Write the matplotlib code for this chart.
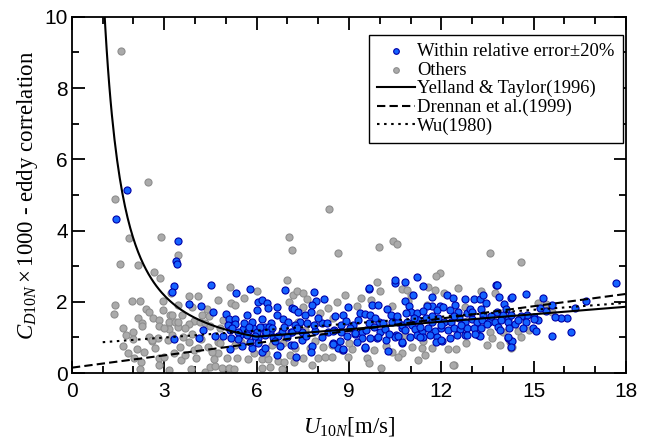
import numpy as np
import matplotlib
matplotlib.use("Agg")
from matplotlib import pyplot as plt
from matplotlib.ticker import MultipleLocator

plt.rcParams['mathtext.fontset'] = 'custom'
plt.rcParams['mathtext.rm'] = 'Liberation Serif'
plt.rcParams['mathtext.it'] = 'Liberation Serif:italic'

# within relative error +-20%
blue_u = [1.79, 1.44, 3.44, 3.38, 3.42, 3.33, 3.25, 3.30,
          4.52, 5.34, 5.79, 3.81, 4.19, 4.58, 5.00, 5.09, 5.30, 5.07, 5.30, 5.55,
          5.73, 5.87, 5.69, 5.84, 6.04, 6.17, 6.33, 6.36, 6.02, 6.17, 6.47, 6.66,
          6.93, 6.66, 6.87, 7.01, 7.14, 4.25, 4.14, 4.65, 4.90, 5.17, 5.46, 5.54,
          5.12, 5.84, 6.19, 6.66, 5.79, 6.06, 6.27, 6.44, 6.54, 6.76, 6.84, 6.01,
          6.17, 6.27, 6.40, 5.68, 7.12, 7.12, 6.26, 5.14, 5.41,
          7.88, 8.20, 7.93, 7.79, 7.77, 7.23, 7.34, 9.66, 10.48, 10.50, 8.96, 8.82,
          9.74, 9.93, 10.25, 10.37, 9.36, 9.52, 9.69, 9.98, 7.58, 7.41, 7.63, 7.25,
          7.47, 7.14, 7.90, 8.14, 8.33, 8.52, 8.74, 8.74, 9.12, 9.20, 9.42, 9.66,
          9.80, 10.01, 10.17, 9.90, 9.69, 9.42, 10.39, 10.60, 10.72, 10.52, 10.20,
          9.52, 8.93, 8.49, 8.66, 8.82, 8.14, 7.80, 7.77, 7.47, 7.27, 7.20, 9.25, 10.72,
          11.22, 10.82, 11.40, 11.09, 10.82, 10.95, 11.69, 12.18, 12.39, 12.77, 13.07,
          13.26, 13.37, 13.44, 13.77, 13.88, 14.05, 14.28, 12.45, 11.96, 11.69, 11.53,
          11.02, 10.85, 11.20, 11.42, 11.85, 12.07, 12.28, 12.55, 12.82, 12.93, 13.29,
          13.37, 13.80, 14.01, 14.18, 14.28, 10.71, 10.88, 11.04, 11.25, 11.49, 11.69,
          11.90, 12.10, 12.33, 12.57, 12.77, 12.99, 13.15, 13.31, 13.55, 13.75, 13.94,
          14.16, 10.82, 11.15, 11.36, 11.58, 11.80, 11.99, 12.21, 12.42, 12.61, 12.82,
          13.07, 13.29, 13.48, 13.83, 14.20, 10.98, 11.20, 11.42, 11.64, 11.85, 12.01,
          12.28, 12.50, 12.77, 13.20, 10.71, 14.16, 14.26,
          17.66, 16.70, 16.33, 16.07, 15.90, 15.70, 16.20, 15.60, 15.60, 15.40, 15.30,
          15.20, 14.74, 15.00, 15.15, 15.00, 14.78, 14.75, 14.60, 14.40, 14.65, 14.97,
          15.07, 14.30, 14.30, 13.80,
          9.65, 8.48, 8.70, 8.80, 8.48, 10.27, 9.19, 9.51, 9.95, 10.49, 11.30, 11.84,
          12.00, 12.82, 13.25, 14.17, 14.27,
          5.20, 5.60, 5.95, 6.10, 6.30, 6.50, 6.70, 6.90, 5.40, 5.75, 6.05, 6.60,
          7.00, 7.30, 7.60, 7.85, 8.00, 8.30, 8.55, 8.90, 9.05, 9.30, 9.55, 9.85,
          10.10, 10.30, 10.55, 10.60, 11.10, 11.30, 11.70, 12.00, 12.40, 12.65, 13.00,
          13.10, 13.60, 13.90, 14.10, 14.50]
blue_cd = [5.14, 4.33, 3.70, 3.15, 3.05, 2.44, 2.27, 0.95,
           2.47, 2.24, 2.35, 1.93, 1.88, 1.70, 1.66, 1.53, 1.52, 1.35, 1.37, 1.23,
           1.18, 1.25, 1.63, 1.44, 2.00, 2.05, 1.96, 1.83, 1.77, 1.53, 1.39, 1.86,
           2.33, 1.63, 1.52, 1.44, 1.83, 1.20, 0.99, 1.04, 1.04, 0.99, 1.06, 0.77,
           0.67, 0.71, 0.60, 0.50, 0.88, 0.97, 1.06, 1.15, 1.01, 0.76, 1.15, 1.15,
           1.25, 1.30, 1.30, 1.06, 1.15, 0.79, 0.70, 1.20, 1.16,
           2.28, 2.08, 2.02, 1.91, 1.72, 1.81, 1.72, 2.37, 2.53, 2.60, 1.86, 1.63,
           1.91, 1.91, 1.81, 1.64, 1.68, 1.65, 1.63, 1.44, 1.63, 1.44, 1.39, 1.35,
           1.16, 1.16, 1.18, 1.39, 1.16, 1.20, 1.35, 1.16, 1.35, 1.10, 1.16, 1.39,
           1.30, 1.16, 1.24, 0.97, 0.97, 0.97, 1.44, 1.44, 1.26, 1.06, 0.92,
           0.70, 1.04, 0.83, 0.71, 0.65, 1.00, 0.77, 0.60, 0.92, 0.44, 0.79, 0.88, 0.83,
           2.69, 2.55, 2.44, 2.19, 2.02, 1.88, 2.14, 2.19, 2.11, 2.07, 2.08,
           2.08, 2.19, 1.97, 2.47, 2.14, 1.93, 2.11, 1.91, 1.89, 1.89, 1.89,
           1.72, 1.68, 1.68, 1.74, 1.77, 1.86, 1.77, 1.72, 1.68, 1.81, 1.81,
           1.63, 1.72, 1.63, 1.52, 1.63, 1.35, 1.44, 1.35, 1.49, 1.54, 1.44,
           1.54, 1.44, 1.44, 1.54, 1.44, 1.52, 1.44, 1.49, 1.44, 1.44, 1.49,
           1.44, 1.21, 1.24, 1.16, 1.25, 1.18, 1.25, 1.21, 1.25, 1.24, 1.25,
           1.27, 1.25, 1.37, 1.30, 1.25, 1.02, 1.07, 1.02, 1.08, 1.02, 0.90,
           0.99, 1.08, 1.08, 1.07, 0.88, 0.99, 0.90,
           2.53, 2.02, 1.82, 1.55, 1.55, 1.57, 1.15, 1.04, 1.91, 1.74, 2.10,
           1.83, 2.21, 1.57, 1.49, 1.52, 1.63, 1.44, 1.60, 1.38, 1.26, 1.26,
           1.18, 0.90, 2.13, 2.47,
           2.38, 1.19, 0.91, 0.67, 0.81, 0.63, 1.11, 0.74, 1.02, 1.00, 1.02, 0.88,
           0.92, 1.07, 1.04, 1.00, 0.74,
           1.25, 1.40, 1.05, 1.30, 1.15, 1.25, 1.05, 1.30, 0.95, 1.30, 0.85, 0.90,
           1.00, 1.25, 1.05, 1.35, 1.55, 1.40, 1.60, 1.45, 1.25, 1.50, 1.20, 1.55,
           1.40, 1.10, 1.60, 1.05, 1.55, 1.30, 1.60, 1.35, 1.60, 1.35, 1.70,
           1.10, 1.60, 1.20, 1.80, 1.50]

# others
gray_u = [1.59, 1.39, 2.47, 8.35, 1.86, 2.89, 1.55, 2.15, 2.68, 2.87, 3.46, 3.21,
          1.39, 1.36, 1.96, 2.22, 2.41, 2.49, 2.63, 2.14, 2.27, 2.29, 1.66, 2.00,
          1.76, 2.49, 2.60, 2.81, 2.84, 2.84, 2.95, 2.95, 3.14, 3.19, 3.25, 3.35,
          3.44, 3.57, 3.14, 3.46, 3.46, 1.65, 1.82, 2.13, 2.03, 2.24, 2.22, 2.84,
          2.98, 2.84, 3.16, 3.52, 3.55, 2.60, 3.12, 3.25,
          7.06, 7.14, 7.00, 5.12, 4.76, 5.17, 3.79, 4.09, 3.90, 4.38, 4.22, 3.95,
          3.79, 3.68, 4.17, 4.33, 4.49, 4.82, 4.76, 4.42, 3.95, 4.09, 3.79, 3.68,
          4.03, 3.87, 4.33, 4.49, 4.65, 4.87, 5.09, 5.25, 5.03, 5.35, 5.71, 5.92,
          6.17, 6.38, 6.44, 6.17, 6.68, 6.82, 6.87, 7.09, 6.49, 5.50, 5.30, 4.74,
          4.55, 4.82, 7.04, 7.17,
          9.98, 10.42, 10.56, 8.66, 9.90, 8.87, 7.30, 7.52, 7.63, 8.31, 9.25, 9.72,
          9.69, 10.39, 10.72, 8.06, 8.49, 8.00, 7.58, 7.36, 8.17, 8.00, 8.22, 8.46,
          8.76, 8.96, 9.09, 9.58, 9.66, 10.03, 9.83, 10.39, 10.22, 7.25, 7.52, 7.74,
          8.44, 7.79, 7.20,
          13.58, 11.96, 11.83, 12.53, 13.80, 13.75, 11.80, 11.58, 10.88, 10.93, 11.53,
          12.77, 13.58, 13.64, 13.48, 14.23, 14.28, 14.01, 11.04, 11.36, 11.69, 11.47,
          11.25, 12.23, 12.47, 12.40, 10.82, 10.71, 14.58, 15.15, 14.50, 14.85, 14.30,
          12.37,
          2.00, 2.35, 2.70, 3.00, 3.30, 3.60, 3.90, 4.20, 4.45, 4.60, 4.90, 5.30,
          5.60, 6.00, 6.30, 6.90, 7.50, 7.90, 8.60, 9.00, 9.40, 10.00, 10.60, 11.00,
          11.40, 12.10, 12.80, 13.30, 13.90, 14.60, 15.40, 15.60]
gray_cd = [9.05, 4.89, 5.37, 4.60, 3.80, 3.81, 3.05, 3.03, 2.84, 2.68, 3.31, 2.24,
           1.90, 1.66, 2.02, 2.02, 1.79, 1.70, 1.54, 1.54, 1.40, 1.33, 1.25, 1.16,
           1.08, 1.02, 0.90, 0.99, 1.50, 1.32, 2.02, 1.77, 1.44, 1.62, 1.64, 1.44,
           1.28, 1.62, 1.24, 1.90, 1.44, 0.77, 0.55, 0.67, 0.42, 0.31, 0.12, 0.41,
           0.46, 0.22, 0.08, 0.74, 0.36, 0.94, 0.94, 1.06,
           3.83, 3.45, 2.61, 2.41, 2.05, 1.96, 2.15, 2.15, 1.86, 1.81, 1.63, 1.46,
           1.37, 1.26, 1.44, 1.39, 1.31, 1.25, 0.88, 0.74, 0.65, 0.69, 0.88, 0.50,
           0.42, 0.12, 0.03, 0.17, 0.19, 0.14, 0.14, 0.10, 0.42, 0.42, 0.40, 0.55,
           0.40, 0.40, 0.18, 0.15, 0.33, 0.12, 0.84, 0.50, 0.80, 0.88, 0.79, 0.55,
           0.60, 0.83, 2.00, 2.20,
           3.55, 3.72, 3.62, 3.36, 2.56, 2.19, 2.30, 2.24, 2.08, 1.83, 1.88, 2.04,
           1.40, 1.88, 2.37, 1.68, 1.54, 1.44, 1.20, 1.44, 0.74, 0.41, 0.46, 0.46,
           0.65, 0.46, 0.68, 0.43, 0.27, 0.13, 0.65, 0.60, 0.76, 0.69, 0.43, 0.69,
           0.78, 0.23, 0.32,
           3.36, 2.80, 2.71, 2.39, 2.47, 2.26, 2.33, 2.42, 2.33, 2.02, 1.91,
           1.86, 1.16, 0.97, 0.78, 0.88, 0.69, 1.16, 0.74, 0.71, 0.71, 0.50,
           0.36, 0.67, 0.67, 0.23, 1.06, 0.55, 3.12, 1.97, 1.18, 1.20, 0.74,
           0.22,
           0.95, 0.60, 0.70, 1.25, 0.55, 1.00, 1.10, 0.95, 1.60, 0.40, 1.50, 1.90,
           2.10, 2.30, 0.55, 0.30, 1.85, 0.90, 2.00, 0.85, 2.10, 2.30, 0.45, 2.20,
           0.90, 2.25, 0.85, 2.30, 0.80, 1.00, 1.95, 1.70]

# bulk formulae, 1000*Cd
u_yt = np.linspace(1.0, 18, 400)
cd_yt = np.where(u_yt < 6, 0.29 + 3.1 / u_yt + 7.7 / u_yt**2, 0.60 + 0.070 * u_yt)
u_dr = np.linspace(0, 18, 50)
cd_dr = 0.15 + 0.115 * u_dr
u_wu = np.linspace(1.0, 18, 50)
cd_wu = 0.8 + 0.065 * u_wu

fig = plt.figure(figsize=(6.48, 4.43), dpi=100)
ax = fig.add_axes([0.111, 0.158, 0.855, 0.804])

ax.scatter(gray_u, gray_cd, s=26, c='#aaaaaa', edgecolors='#8e8e8e', linewidths=0.8,
           label='Others', zorder=2)
ax.scatter(blue_u, blue_cd, s=26, c='#1463ff', edgecolors='#0000a8', linewidths=0.8,
           label='Within relative error\u00b120%', zorder=3)
ax.plot(u_yt, cd_yt, color='black', lw=1.5, label='Yelland & Taylor(1996)', zorder=4)
ax.plot(u_dr, cd_dr, color='black', lw=1.5, ls=(0, (4, 2)), label='Drennan et al.(1999)', zorder=4)
ax.plot(u_wu, cd_wu, color='black', lw=1.5, ls=(0, (1.2, 2.2)), label='Wu(1980)', zorder=4)

ax.set_xlim(0, 18)
ax.set_ylim(0, 10)
ax.xaxis.set_major_locator(MultipleLocator(3))
ax.xaxis.set_minor_locator(MultipleLocator(1))
ax.yaxis.set_major_locator(MultipleLocator(2))
ax.yaxis.set_minor_locator(MultipleLocator(1))
ax.tick_params(which='both', direction='in', top=True, right=True, width=1.3)
ax.tick_params(which='major', length=9, labelsize=15)
ax.tick_params(which='minor', length=5)
ax.tick_params(axis='x', which='major', pad=6.5)
ax.tick_params(axis='y', which='major', pad=3)
for lab in ax.get_xticklabels() + ax.get_yticklabels():
    lab.set_family('Liberation Sans')
for sp in ax.spines.values():
    sp.set_linewidth(1.3)

ax.set_xlabel(r'$U_{\mathit{10N}}$[m/s]', family='Liberation Serif', fontsize=16.5, labelpad=10)
ax.set_ylabel(r'$C_{\mathit{D10N}}\times$1000 - eddy correlation', family='Liberation Serif',
              fontsize=16.5, labelpad=3)

h, l = ax.get_legend_handles_labels()
order = [1, 0, 2, 3, 4]
leg = ax.legend([h[i] for i in order], [l[i] for i in order], loc='upper right',
                bbox_to_anchor=(0.995, 0.95), borderaxespad=0, fancybox=False,
                edgecolor='black', framealpha=1, handlelength=2.0, handletextpad=0.15,
                labelspacing=0.08, borderpad=0.45, markerscale=0.8,
                prop={'family': 'Liberation Serif', 'size': 13.4})
leg.get_frame().set_linewidth(1.0)

fig.savefig('out.png', dpi=100)
